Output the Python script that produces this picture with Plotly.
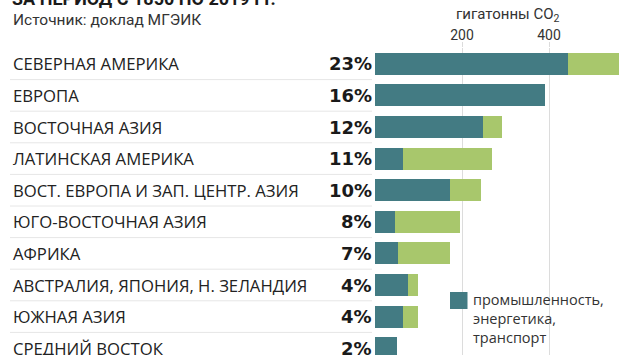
import plotly.graph_objects as go

regions = [
    "СЕВЕРНАЯ АМЕРИКА",
    "ЕВРОПА",
    "ВОСТОЧНАЯ АЗИЯ",
    "ЛАТИНСКАЯ АМЕРИКА",
    "ВОСТ. ЕВРОПА И ЗАП. ЦЕНТР. АЗИЯ",
    "ЮГО-ВОСТОЧНАЯ АЗИЯ",
    "АФРИКА",
    "АВСТРАЛИЯ, ЯПОНИЯ, Н. ЗЕЛАНДИЯ",
    "ЮЖНАЯ АЗИЯ",
    "СРЕДНИЙ ВОСТОК",
]
shares = ["23%", "16%", "12%", "11%", "10%", "8%", "7%", "4%", "4%", "2%"]
industry = [443, 391, 249, 65, 172, 46, 54, 77, 65, 50]
land_use = [118, 0, 44, 204, 71, 149, 118, 22, 34, 0]
tick_vals = [200, 400]
tick_text = ["200", "400"]

title_text = "ЗА ПЕРИОД С 1850 ПО 2019 ГГ."
source_text = "Источник: доклад МГЭИК"
axis_title = "гигатонны CO<sub>2</sub>"
legend_text = "промышленность,<br>энергетика,<br>транспорт"

TEAL = "#437b83"
GREEN = "#a8c76c"

W, H = 630, 355
ML, MT = 375, 48
PW, PH = W - ML, H - MT
ROW = 31.6
UNIT_PX = 87 / 200.0

def px_x(p):
    return (p - ML) / PW

def px_y(p):
    return (H - p) / PH

fig = go.Figure()
fig.add_trace(go.Bar(y=regions, x=industry, orientation="h", marker_color=TEAL,
                     marker_line_width=0, name="промышленность, энергетика, транспорт",
                     showlegend=False))
fig.add_trace(go.Bar(y=regions, x=land_use, orientation="h", marker_color=GREEN,
                     marker_line_width=0, name="землепользование", showlegend=False))

ann = []
shapes = []
for i, (r, s) in enumerate(zip(regions, shares)):
    ann.append(dict(xref="paper", yref="y", x=px_x(11), y=r, xanchor="left", yanchor="middle",
                    text=r, showarrow=False, font=dict(family="Open Sans", size=16.7, color="#222")))
    ann.append(dict(xref="x", yref="y", x=0, y=r, xanchor="right", yanchor="middle", xshift=-1,
                    text="<b>" + s + "</b>", showarrow=False,
                    font=dict(family="DejaVu Sans", size=18, color="#1a1a1a")))
    shapes.append(dict(type="line", xref="paper", yref="y", x0=px_x(10), x1=px_x(372),
                       y0=i + 0.5, y1=i + 0.5, line=dict(color="#e6e6e6", width=1), layer="below"))

ann.append(dict(xref="paper", yref="paper", x=px_x(10), y=px_y(11), xanchor="left", yanchor="bottom",
                text="<b>" + title_text + "</b>", showarrow=False,
                font=dict(family="Roboto", size=18, color="#1a1a1a")))
ann.append(dict(xref="paper", yref="paper", x=px_x(11), y=px_y(20), xanchor="left", yanchor="middle",
                text=source_text, showarrow=False,
                font=dict(family="Roboto", size=15.5, color="#333")))
ann.append(dict(xref="paper", yref="paper", x=px_x(507.5), y=px_y(15), xanchor="center", yanchor="middle",
                text=axis_title, showarrow=False,
                font=dict(family="Roboto", size=15, color="#333")))
ann.append(dict(xref="paper", yref="paper", x=px_x(471), y=px_y(288), xanchor="left", yanchor="top",
                text=legend_text, showarrow=False, align="left",
                font=dict(family="Open Sans", size=14.5, color="#333")))
shapes.append(dict(type="rect", xref="paper", yref="paper", x0=px_x(450), x1=px_x(467.5),
                   y0=px_y(292), y1=px_y(309), fillcolor=TEAL, line=dict(width=0)))

fig.update_layout(
    width=W, height=H,
    margin=dict(l=ML, r=0, t=MT, b=0, pad=0),
    paper_bgcolor="white", plot_bgcolor="white",
    barmode="stack", bargap=0.3,
    annotations=ann, shapes=shapes,
    xaxis=dict(side="top", range=[0, PW / UNIT_PX], tickvals=tick_vals, ticktext=tick_text,
               showgrid=True, gridcolor="#dcdcdc", gridwidth=1, zeroline=False, showline=False,
               ticks="outside", ticklen=5, tickcolor="#dcdcdc", ticklabelstandoff=-4,
               tickfont=dict(family="Roboto", size=14, color="#333"), automargin=False),
    yaxis=dict(type="category", categoryorder="array", categoryarray=regions,
               range=[-0.5 + PH / ROW, -0.5], showticklabels=False, showgrid=False,
               zeroline=False, showline=False, automargin=False),
)

fig.write_html("out.html", config={"displayModeBar": False},
               post_script="document.body.style.margin='0px';")
